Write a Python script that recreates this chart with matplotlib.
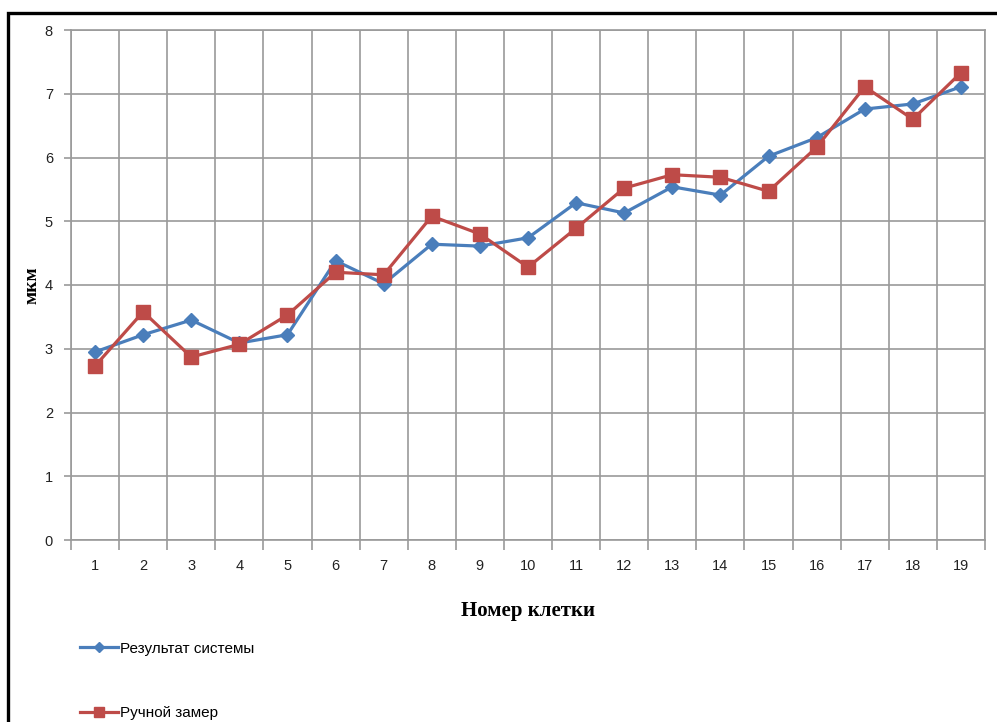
import matplotlib.pyplot as plt
import numpy as np
from matplotlib.patches import Rectangle
from matplotlib.ticker import FixedLocator

# Cell numbers and the two measurement series (μm)
cells = list(range(1, 20))
system_result = [2.95, 3.22, 3.45, 3.09, 3.22, 4.38, 4.02, 4.64, 4.61, 4.74,
                 5.29, 5.13, 5.54, 5.41, 6.02, 6.31, 6.76, 6.84, 7.11]
manual_measure = [2.73, 3.58, 2.87, 3.07, 3.53, 4.20, 4.16, 5.08, 4.80, 4.28,
                  4.89, 5.52, 5.73, 5.69, 5.47, 6.16, 7.11, 6.60, 7.33]

BLUE = "#4a7ebb"
RED = "#be4b48"
GRID = "#9a9a9a"


def main() -> None:
    fig = plt.figure(figsize=(9.97, 7.22), dpi=100)
    ax = fig.add_axes([71 / 997, 182 / 722, 914 / 997, 510 / 722])

    # black frame around the chart, running off the right and bottom edges
    fig.patches.append(Rectangle((8 / 997, -0.1), 1.2, (722 - 13) / 722 + 0.1,
                                 transform=fig.transFigure, fill=False,
                                 edgecolor="black", linewidth=2.4))

    ax.plot(cells, system_result, color=BLUE, linewidth=2.3, marker="D",
            markersize=7.5, label="Результат системы", zorder=3)
    ax.plot(cells, manual_measure, color=RED, linewidth=2.3, marker="s",
            markersize=9.5, label="Ручной замер", zorder=4)

    ax.set_xlim(0.5, 19.5)
    ax.set_ylim(0, 8)
    ax.set_xticks(cells)
    ax.set_xticklabels([str(c) for c in cells])
    ax.xaxis.set_minor_locator(FixedLocator(np.arange(0.5, 20, 1)))
    ax.set_yticks(range(0, 9))

    ax.grid(True, which="major", axis="y", color=GRID, linewidth=1.2)
    ax.grid(True, which="minor", axis="x", color=GRID, linewidth=1.2)
    ax.set_axisbelow(True)
    for side in ax.spines.values():
        side.set_color(GRID)
        side.set_linewidth(1.2)

    ax.tick_params(axis="x", which="major", length=0, pad=14,
                   labelsize=10.5, labelcolor="#222222")
    ax.tick_params(axis="x", which="minor", length=7, color=GRID, width=1.2)
    ax.tick_params(axis="y", length=5, color=GRID, width=1.2, pad=8,
                   labelsize=10.5, labelcolor="#222222")
    for lab in ax.get_xticklabels() + ax.get_yticklabels():
        lab.set_family("Liberation Sans")

    ax.set_ylabel("мкм", family="Liberation Serif", fontweight="bold",
                  fontsize=14, labelpad=3)
    ax.set_xlabel("Номер клетки", family="Liberation Serif",
                  fontweight="bold", fontsize=15, labelpad=20)

    fig.legend(loc="upper left", bbox_to_anchor=(72 / 997, 1 - 634 / 722),
               frameon=False, handlelength=2.5, handletextpad=0.15,
               labelspacing=3.32, borderpad=0, markerscale=0.7,
               prop={"family": "Liberation Sans", "size": 11})

    fig.savefig("out.png", dpi=100)


if __name__ == "__main__":
    main()
